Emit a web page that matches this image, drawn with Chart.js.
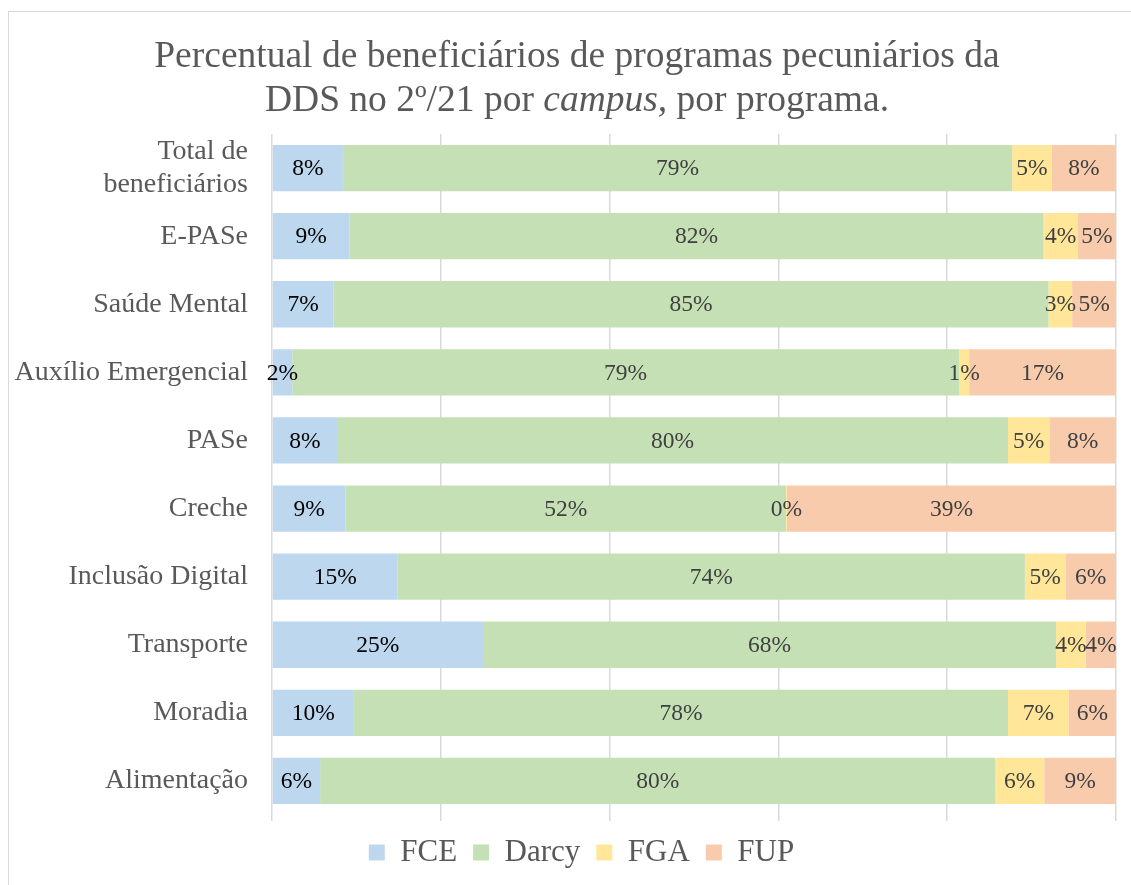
<!DOCTYPE html>
<html>
<head>
<meta charset="utf-8">
<script src="https://cdn.jsdelivr.net/npm/chart.js@4.4.1/dist/chart.umd.min.js"></script>
<style>
  html, body { margin: 0; padding: 0; background: #fff; overflow: hidden; width: 1131px; height: 885px; }
  #frame { position: absolute; left: 8px; top: 11px; width: 1136px; height: 880px; border: 1px solid #d9d9d9; background: #fff; }
  #title { position: absolute; left: 8px; width: 1138px; top: 33px; text-align: center;
           font-family: 'Liberation Serif', 'Times New Roman', serif; font-size: 37.5px; line-height: 44px; color: #595959; }
  #wrap { position: absolute; left: 9px; top: 12px; width: 1136px; height: 880px; }
</style>
</head>
<body>
<div id="frame"></div>
<div id="wrap"><canvas id="c"></canvas></div>
<div id="title">Percentual de beneficiários de programas pecuniários da<br>DDS no 2º/21 por <i>campus,</i> por programa.</div>
<script>
const categories = [
  ['Total de', 'beneficiários'],
  'E-PASe',
  'Saúde Mental',
  'Auxílio Emergencial',
  'PASe',
  'Creche',
  'Inclusão Digital',
  'Transporte',
  'Moradia',
  'Alimentação'
];
const seriesNames = ['FCE', 'Darcy', 'FGA', 'FUP'];
const fce   = [8.4, 9.2, 7.3, 2.4, 7.7, 8.7, 14.9, 25.0, 9.7, 5.7];
const darcy = [79.3, 82.2, 84.7, 79.0, 79.5, 52.2, 74.3, 67.9, 77.5, 80.0];
const fga   = [4.7, 4.1, 2.8, 1.2, 4.9, 0.1, 4.8, 3.5, 7.2, 5.8];
const fup   = [7.6, 4.5, 5.2, 17.4, 7.9, 39.0, 6.0, 3.6, 5.6, 8.5];
const xTicks = [0, 20, 40, 60, 80, 100];

const colors = ['#bdd7ee', '#c5e0b4', '#ffe699', '#f8cbad'];
const labelColors = ['#000000', '#404040', '#404040', '#404040'];
const seriesData = [fce, darcy, fga, fup];

const serif = "'Liberation Serif', 'Times New Roman', serif";

const valueLabels = {
  id: 'valueLabels',
  afterDatasetsDraw(chart) {
    const ctx = chart.ctx;
    ctx.save();
    ctx.font = '23.5px ' + serif;
    ctx.textAlign = 'center';
    ctx.textBaseline = 'middle';
    chart.data.datasets.forEach((ds, di) => {
      const meta = chart.getDatasetMeta(di);
      meta.data.forEach((el, i) => {
        const v = ds.data[i];
        const cx = (el.x + el.base) / 2;
        ctx.fillStyle = labelColors[di];
        ctx.fillText(Math.round(v) + '%', cx, el.y + 1);
      });
    });
    ctx.restore();
  }
};

// Centre the legend under the frame as in the original
const legendShift = {
  id: 'legendShift',
  afterLayout(chart) {
    if (chart.legend) { chart.legend.left += 38; }
  }
};

new Chart(document.getElementById('c'), {
  type: 'bar',
  data: {
    labels: categories,
    datasets: seriesNames.map((n, i) => ({
      label: n,
      data: seriesData[i],
      backgroundColor: colors[i],
      borderWidth: 0,
      barPercentage: 0.68,
      categoryPercentage: 1.0
    }))
  },
  options: {
    indexAxis: 'y',
    responsive: true,
    maintainAspectRatio: false,
    animation: false,
    layout: { padding: { top: 122, right: 29, bottom: 14, left: 0 } },
    scales: {
      x: {
        stacked: true,
        min: 0, max: 100,
        afterBuildTicks(scale) { scale.ticks = xTicks.map(v => ({ value: v })); },
        afterFit(scale) { scale.height = 6; },
        ticks: { display: false },
        grid: { color: '#d9d9d9', lineWidth: 1.5, tickLength: 6, drawTicks: true },
        border: { display: false }
      },
      y: {
        stacked: true,
        afterFit(scale) { scale.width = 263; },
        grid: { display: false, drawTicks: false },
        border: { display: false },
        ticks: {
          color: '#595959',
          padding: 24,
          font: { family: serif, size: 28, lineHeight: 1.15 }
        }
      }
    },
    plugins: {
      legend: {
        position: 'bottom',
        labels: {
          color: '#595959',
          boxWidth: 16,
          boxHeight: 16,
          padding: 16,
          font: { family: serif, size: 31 }
        }
      },
      title: { display: false },
      tooltip: { enabled: false }
    }
  },
  plugins: [valueLabels, legendShift]
});
</script>
</body>
</html>
